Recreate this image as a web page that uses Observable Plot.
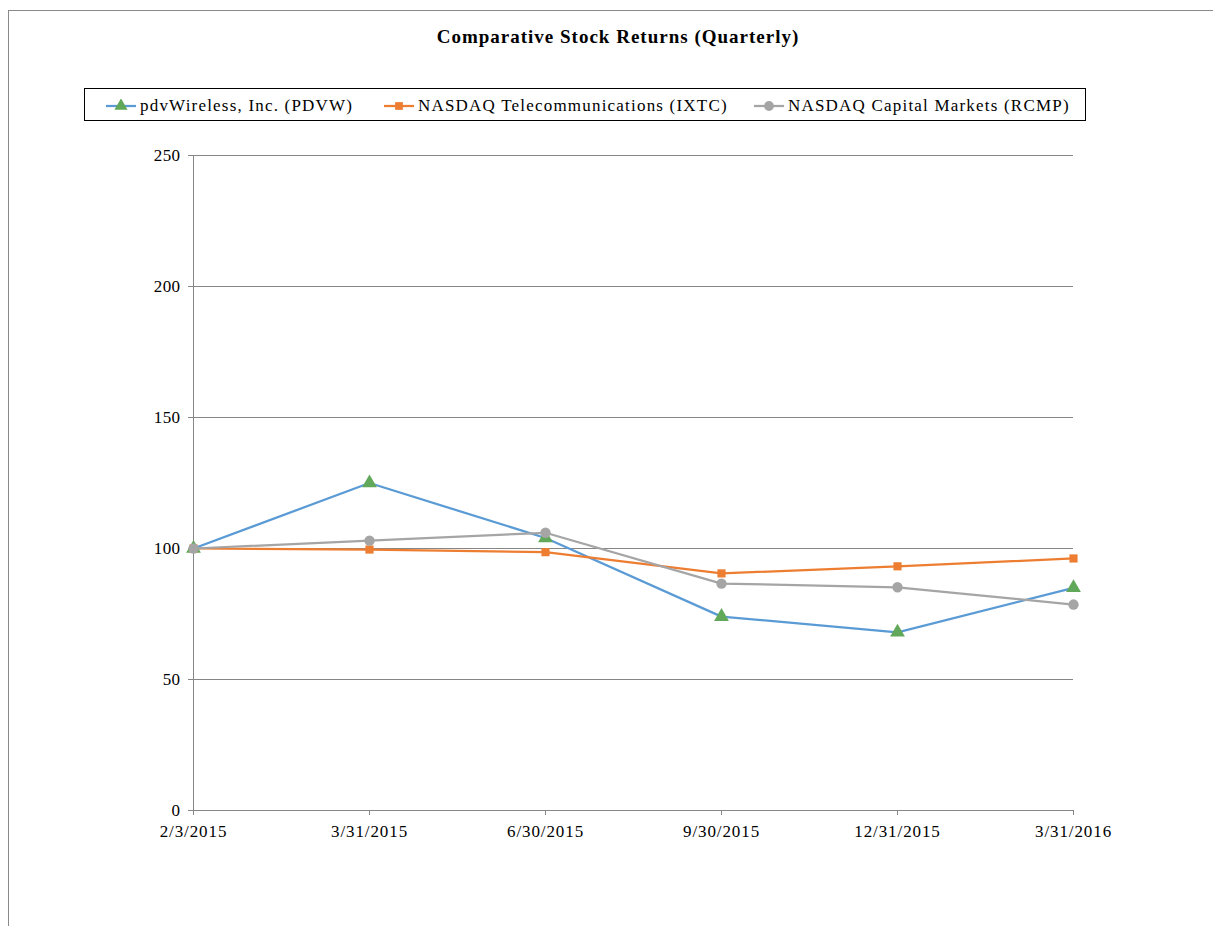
<!DOCTYPE html>
<html>
<head>
<meta charset="utf-8">
<script src="https://cdn.jsdelivr.net/npm/d3@7"></script>
<script src="https://cdn.jsdelivr.net/npm/@observablehq/plot@0.6"></script>
<style>
  html, body { margin: 0; padding: 0; background: #fff; }
  #page { position: relative; width: 1213px; height: 926px; overflow: hidden; font-family: "Liberation Serif", "Times New Roman", serif; }
  #frame { position: absolute; left: 8px; top: 10px; right: -2px; bottom: -2px; border-top: 1px solid #8a8a8a; border-left: 1px solid #8a8a8a; }
  #title { position: absolute; left: 0; width: 1236px; top: 26px; text-align: center; font-weight: bold; font-size: 19px; letter-spacing: 1px; color: #000; }
  #legend { position: absolute; left: 84px; top: 88px; width: 1002px; height: 33px; border: 1px solid #000; box-sizing: border-box; }
  .item { position: absolute; top: 0; height: 33px; display: flex; align-items: center; font-size: 17px; letter-spacing: 1.2px; color: #000; white-space: nowrap; }
  .item svg { margin-right: 3px; }
  #chart { position: absolute; left: 0; top: 140px; }
  #chart g[aria-label="x-axis tick label"] text { letter-spacing: 0.9px; }
  #chart g[aria-label="y-axis tick label"] text { letter-spacing: 0.4px; }
</style>
</head>
<body>
<div id="page">
  <div id="frame"></div>
  <div id="title">Comparative Stock Returns (Quarterly)</div>
  <div id="legend"></div>
  <div id="chart"></div>
</div>
<script>
const dates = ["2/3/2015", "3/31/2015", "6/30/2015", "9/30/2015", "12/31/2015", "3/31/2016"];
const pdvw = [100, 125, 104, 74, 68, 85];
const ixtc = [100, 99.6, 98.6, 90.5, 93.2, 96.2];
const rcmp = [100, 103, 106, 86.6, 85.2, 78.6];
const seriesNames = ["pdvWireless, Inc. (PDVW)", "NASDAQ Telecommunications (IXTC)", "NASDAQ Capital Markets (RCMP)"];
const lineColors = ["#5B9BD5", "#ED7D31", "#A5A5A5"];
const markerColors = ["#62A85A", "#ED7D31", "#A5A5A5"];
const markerSymbols = ["triangle", "square", "circle"];
const yTicks = [0, 50, 100, 150, 200, 250];

const seriesValues = [pdvw, ixtc, rcmp];
const series = seriesNames.map((name, i) => dates.map((d, j) => ({series: name, date: d, value: seriesValues[i][j]})));

const marks = [
  Plot.gridY(yTicks.filter(t => t > 0), {stroke: "#868686", strokeOpacity: 1, strokeWidth: 1}),
  Plot.ruleX([dates[0]], {y1: 0, y2: 250, stroke: "#868686", strokeWidth: 1}),
  Plot.ruleY([0], {stroke: "#868686", strokeWidth: 1}),
  Plot.axisY({ticks: yTicks, tickSize: 5, tickPadding: 8, stroke: "#868686", label: null, fontSize: 17}),
  Plot.axisX({tickSize: 5, tickPadding: 9, stroke: "#868686", label: null, fontSize: 17})
];
series.forEach((data, i) => {
  marks.push(Plot.line(data, {x: "date", y: "value", stroke: lineColors[i], strokeWidth: 2.25}));
});
series.forEach((data, i) => {
  marks.push(Plot.dot(data, {x: "date", y: "value", symbol: () => markerSymbols[i], fill: markerColors[i], stroke: "none", r: i === 0 ? 5.5 : (i === 1 ? 4.6 : 5.2)}));
});

const chart = Plot.plot({
  width: 1213,
  height: 740,
  marginLeft: 193,
  marginRight: 140,
  marginTop: 15,
  marginBottom: 70,
  style: {fontFamily: "'Liberation Serif', 'Times New Roman', serif", fontSize: "17px", color: "#000", background: "transparent", overflow: "visible"},
  x: {type: "point", domain: dates, padding: 0},
  y: {domain: [0, 250]},
  symbol: {type: "identity"},
  marks
});
document.getElementById("chart").appendChild(chart);

// legend
const legend = document.getElementById("legend");
const itemLeft = [20, 298, 668];
seriesNames.forEach((name, i) => {
  const div = document.createElement("div");
  div.className = "item";
  div.style.left = itemLeft[i] + "px";
  const sw = d3.create("svg").attr("width", 32).attr("height", 14);
  sw.append("line").attr("x1", 1).attr("x2", 31).attr("y1", 7).attr("y2", 7).attr("stroke", lineColors[i]).attr("stroke-width", 2.25);
  const sym = {triangle: d3.symbolTriangle, square: d3.symbolSquare, circle: d3.symbolCircle}[markerSymbols[i]];
  sw.append("path").attr("d", d3.symbol(sym, i === 1 ? 60 : 75)()).attr("transform", "translate(16,7)").attr("fill", markerColors[i]);
  div.appendChild(sw.node());
  const span = document.createElement("span");
  span.textContent = name;
  div.appendChild(span);
  legend.appendChild(div);
});
</script>
</body>
</html>
